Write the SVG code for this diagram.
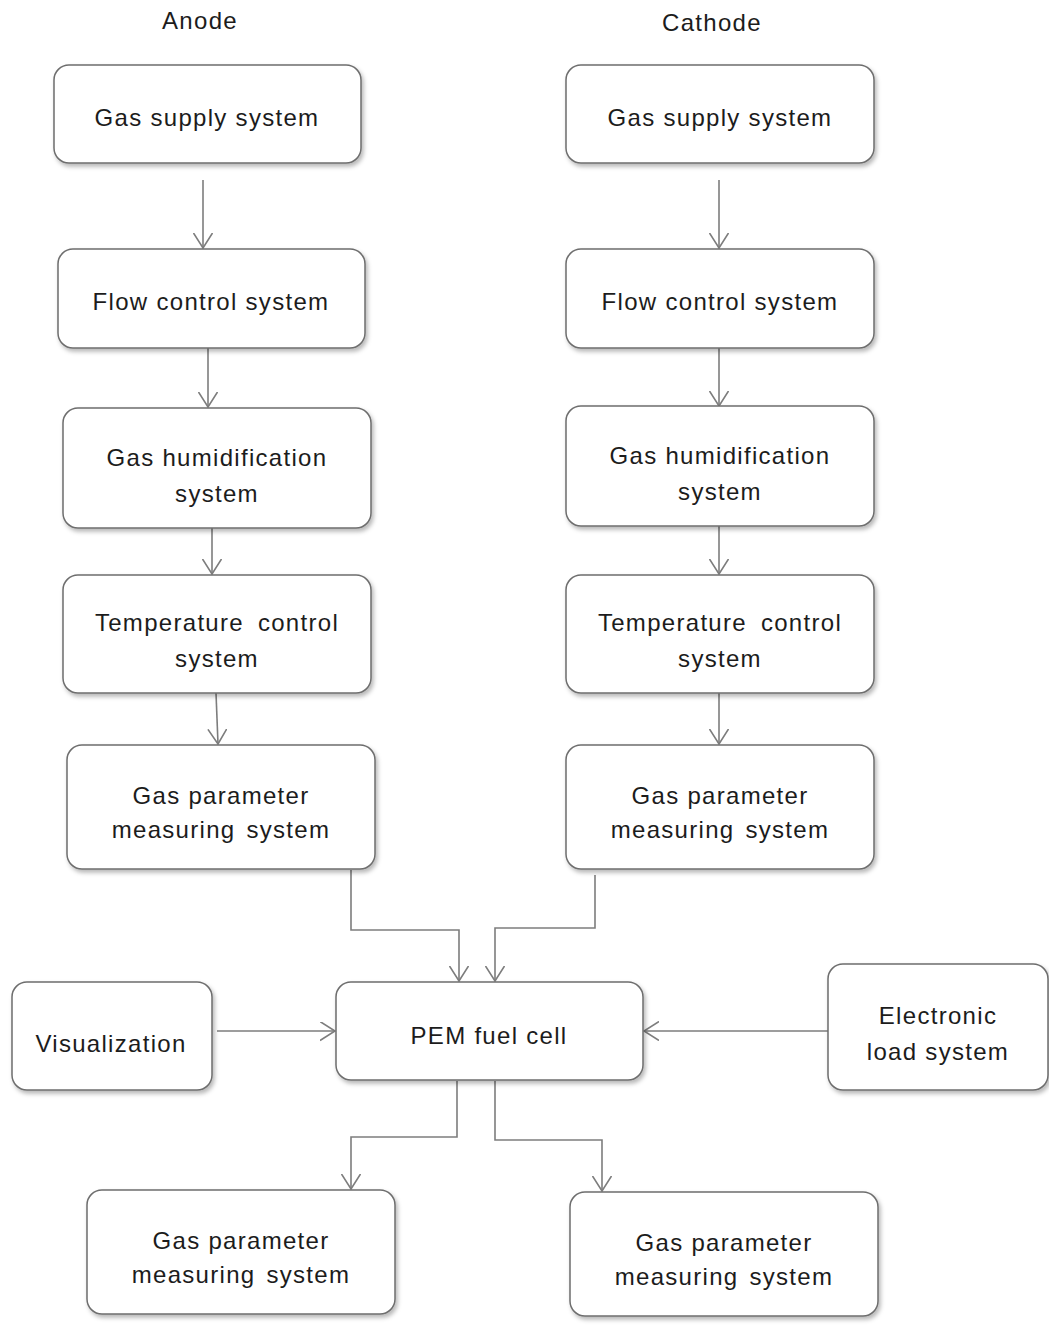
<svg xmlns="http://www.w3.org/2000/svg" width="1049" height="1327" viewBox="0 0 1049 1327">
<style>
.box{fill:#fff;stroke:#6e6e6e;stroke-width:1.5;filter:url(#sh)}
.t{font-family:"Liberation Sans",Arial,sans-serif;font-size:24px;letter-spacing:1.3px;fill:#1c1c1c;text-anchor:middle}
.lbl{font-family:"Liberation Sans",Arial,sans-serif;font-size:24px;letter-spacing:1.3px;fill:#1c1c1c;text-anchor:middle}
.c{fill:none;stroke:#7d7d7d;stroke-width:1.6;marker-end:url(#ah)}
</style>
<defs>
<filter id="sh" x="-10%" y="-10%" width="125%" height="130%">
<feDropShadow dx="2" dy="3" stdDeviation="2.2" flood-color="#000" flood-opacity="0.28"/>
</filter>
<marker id="ah" markerUnits="userSpaceOnUse" markerWidth="18" markerHeight="20" refX="15" refY="9.5" orient="auto" viewBox="0 0 18 20">
<path d="M0,0 L15,9.5 L0,19" fill="none" stroke="#7d7d7d" stroke-width="1.6"/>
</marker>
</defs>
<rect width="1049" height="1327" fill="#fff"/>
<text class="lbl" x="200" y="29">Anode</text>
<text class="lbl" x="712" y="31">Cathode</text>
<g id="connectors">
<path class="c" d="M203,180 V248"/>
<path class="c" d="M208,348 V407"/>
<path class="c" d="M212,528 V574"/>
<path class="c" d="M216,693 L218,744"/>
<path class="c" d="M719,180 V248"/>
<path class="c" d="M719,348 V406"/>
<path class="c" d="M719,526 V574"/>
<path class="c" d="M719,693 V744"/>
<path class="c" d="M351,870 V930 H459 V981"/>
<path class="c" d="M595,875 V928 H495 V981"/>
<path class="c" d="M217,1031 H335"/>
<path class="c" d="M828,1031 H644"/>
<path class="c" d="M457,1081 V1137 H351 V1189"/>
<path class="c" d="M495,1081 V1140 H602 V1191"/>
</g>
<g id="a-supply"><rect class="box" x="54" y="65" width="307" height="98" rx="15"/><text class="t" x="207" y="126">Gas supply system</text></g>
<g id="a-flow"><rect class="box" x="58" y="249" width="307" height="99" rx="15"/><text class="t" x="211" y="310">Flow control system</text></g>
<g id="a-humid"><rect class="box" x="63" y="408" width="308" height="120" rx="15"/><text class="t" x="217" y="466">Gas humidification</text><text class="t" x="217" y="502">system</text></g>
<g id="a-temp"><rect class="box" x="63" y="575" width="308" height="118" rx="15"/><text class="t" x="217" y="631" word-spacing="6">Temperature control</text><text class="t" x="217" y="667">system</text></g>
<g id="a-param"><rect class="box" x="67" y="745" width="308" height="124" rx="15"/><text class="t" x="221" y="804">Gas parameter</text><text class="t" x="221" y="838" word-spacing="3">measuring system</text></g>
<g id="c-supply"><rect class="box" x="566" y="65" width="308" height="98" rx="15"/><text class="t" x="720" y="126">Gas supply system</text></g>
<g id="c-flow"><rect class="box" x="566" y="249" width="308" height="99" rx="15"/><text class="t" x="720" y="310">Flow control system</text></g>
<g id="c-humid"><rect class="box" x="566" y="406" width="308" height="120" rx="15"/><text class="t" x="720" y="464">Gas humidification</text><text class="t" x="720" y="500">system</text></g>
<g id="c-temp"><rect class="box" x="566" y="575" width="308" height="118" rx="15"/><text class="t" x="720" y="631" word-spacing="6">Temperature control</text><text class="t" x="720" y="667">system</text></g>
<g id="c-param"><rect class="box" x="566" y="745" width="308" height="124" rx="15"/><text class="t" x="720" y="804">Gas parameter</text><text class="t" x="720" y="838" word-spacing="3">measuring system</text></g>
<g id="pem"><rect class="box" x="336" y="982" width="307" height="98" rx="15"/><text class="t" x="489" y="1044">PEM fuel cell</text></g>
<g id="vis"><rect class="box" x="12" y="982" width="200" height="108" rx="15"/><text class="t" x="111" y="1052">Visualization</text></g>
<g id="load"><rect class="box" x="828" y="964" width="220" height="126" rx="15"/><text class="t" x="938" y="1024">Electronic</text><text class="t" x="938" y="1060">load system</text></g>
<g id="b-param-l"><rect class="box" x="87" y="1190" width="308" height="124" rx="15"/><text class="t" x="241" y="1249">Gas parameter</text><text class="t" x="241" y="1283" word-spacing="3">measuring system</text></g>
<g id="b-param-r"><rect class="box" x="570" y="1192" width="308" height="124" rx="15"/><text class="t" x="724" y="1251">Gas parameter</text><text class="t" x="724" y="1285" word-spacing="3">measuring system</text></g>
</svg>
